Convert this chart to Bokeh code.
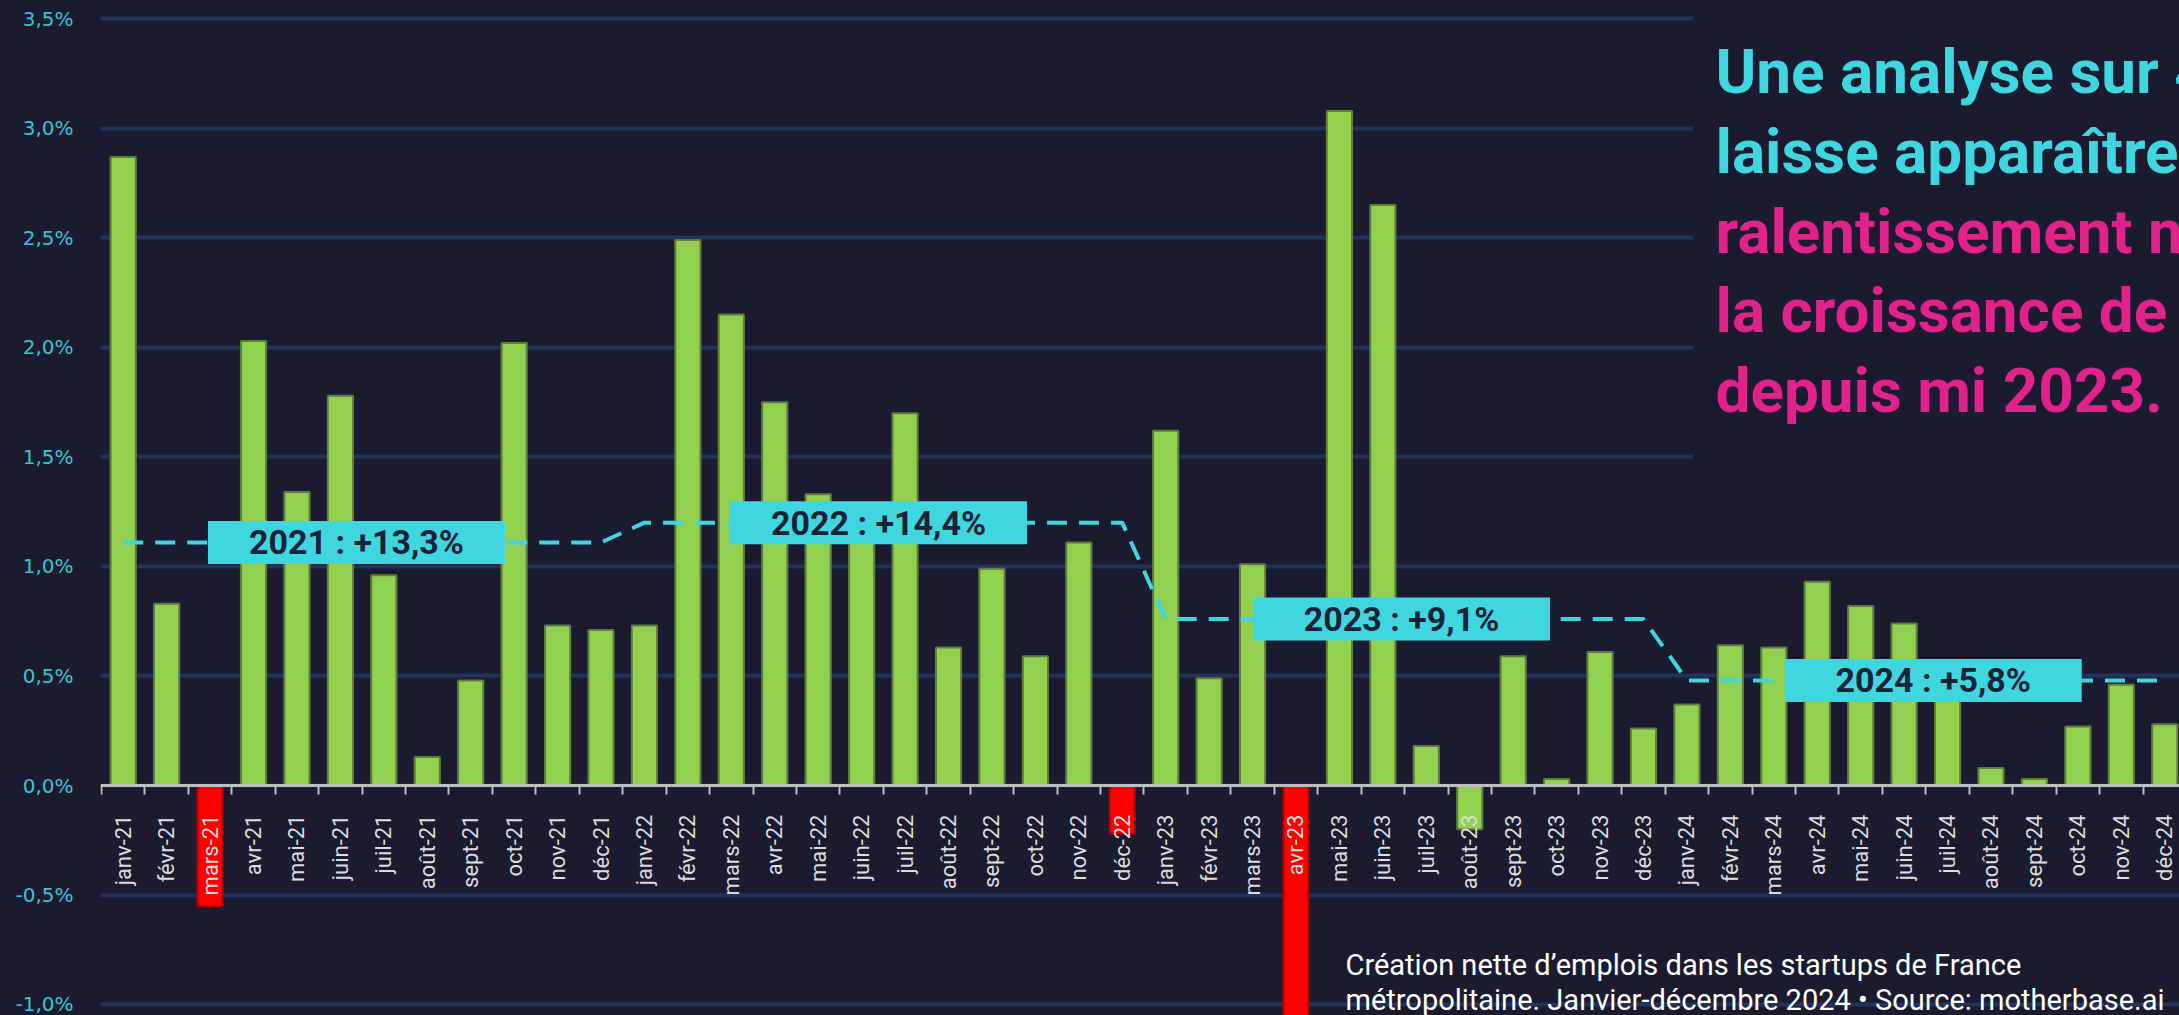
import math
from bokeh.plotting import figure
from bokeh.models import (FixedTicker, LinearAxis, Range1d, ColumnDataSource,
                          Label, BoxAnnotation)
from bokeh.embed import file_html
from bokeh.resources import INLINE
from bokeh.core.properties import value

# ---------------- data ----------------
month_names = ["janv", "févr", "mars", "avr", "mai", "juin",
               "juil", "août", "sept", "oct", "nov", "déc"]
years = ["21", "22", "23", "24"]
categories = [f"{m}-{y}" for y in years for m in month_names]

values_2021 = [2.87, 0.83, -0.55, 2.03, 1.34, 1.78, 0.96, 0.13, 0.48, 2.02, 0.73, 0.71]
values_2022 = [0.73, 2.49, 2.15, 1.75, 1.33, 1.17, 1.70, 0.63, 0.99, 0.59, 1.11, -0.22]
values_2023 = [1.62, 0.49, 1.01, -1.25, 3.08, 2.65, 0.18, -0.20, 0.59, 0.03, 0.61, 0.26]
values_2024 = [0.37, 0.64, 0.63, 0.93, 0.82, 0.74, 0.50, 0.08, 0.03, 0.27, 0.46, 0.28]
values = values_2021 + values_2022 + values_2023 + values_2024

highlight = ["mars-21", "déc-22", "avr-23"]   # bars shown in red

yearly_avg = [1.11, 1.20, 0.76, 0.48]          # monthly average per year
avg_line = [a for a in yearly_avg for _ in range(12)]

label_texts = ["2021 : +13,3%", "2022 : +14,4%", "2023 : +9,1%", "2024 : +5,8%"]
label_x = [5.37, 17.39, 29.43, 41.67]
label_y = yearly_avg

ytick_vals = [-1.0, -0.5, 0.0, 0.5, 1.0, 1.5, 2.0, 2.5, 3.0, 3.5]
ytick_labels = ["-1,0%", "-0,5%", "0,0%", "0,5%", "1,0%", "1,5%",
                "2,0%", "2,5%", "3,0%", "3,5%"]

title_lines = ["Une analyse sur 4", "laisse apparaître", "ralentissement n",
               "la croissance de", "depuis mi 2023."]
caption_lines = ["Création nette d’emplois dans les startups de France",
                 "métropolitaine. Janvier-décembre 2024 • Source: motherbase.ai"]

# ---------------- style ----------------
BG = "#1b1b2f"
GRID = "#22335a"
GREEN = "#92d050"
GREEN_EDGE = "#5f7d3c"
RED = "#ff0000"
RED_EDGE = "#b00000"
CYAN = "#40d6df"
MAGENTA = "#e0228a"
W, H = 2179, 1015

idx = list(range(len(categories)))
colors = [RED if c in highlight else GREEN for c in categories]
edges = [RED_EDGE if c in highlight else GREEN_EDGE for c in categories]

p = figure(width=W, height=H, output_backend="svg", toolbar_location=None,
           x_range=Range1d(-0.523, 47.34), y_range=Range1d(-1.050, 3.584),
           min_border_left=100, min_border_right=0, min_border_top=0,
           min_border_bottom=0, background_fill_color=BG, border_fill_color=BG,
           outline_line_color=None, x_axis_location=None)

# y axis
p.yaxis.ticker = FixedTicker(ticks=ytick_vals)
p.yaxis.major_label_overrides = dict(zip(ytick_vals, ytick_labels))
p.yaxis.axis_line_color = None
p.yaxis.major_tick_line_color = None
p.yaxis.minor_tick_line_color = None
p.yaxis.major_tick_out = 0
p.yaxis.major_label_standoff = 27
p.yaxis.major_label_text_color = "#3cc3cf"
p.yaxis.major_label_text_font = "DejaVu Sans"
p.yaxis.major_label_text_font_size = "20px"

p.ygrid.ticker = FixedTicker(ticks=ytick_vals)
p.ygrid.grid_line_color = GRID
p.ygrid.grid_line_width = 4
p.xgrid.visible = False

# title block background (covers grid at top right)
p.add_layout(BoxAnnotation(left=1593, left_units="screen", bottom=545,
                           bottom_units="screen", fill_color=BG, fill_alpha=1,
                           line_color=None, level="underlay"))

# bars
src = ColumnDataSource(dict(x=idx, top=values, color=colors, edge=edges))
p.vbar(x="x", top="top", bottom=0, width=0.58, fill_color="color",
       line_color="edge", line_width=2, source=src)

# yearly average dashed line
p.line(idx, avg_line, line_color=CYAN, line_width=4, line_dash="20 12")

# labels on the line
p.rect(x=label_x, y=label_y, width=297, height=43, width_units="screen",
       height_units="screen", fill_color=CYAN, line_color=None)
p.text(x=label_x, y=label_y, text=label_texts, text_align="center",
       text_baseline="middle", text_font=value("Roboto"),
       text_font_style="bold", text_font_size="34px", text_color="#1a2238")

# x axis at zero: labels at month centres, small ticks between months
xaxis = LinearAxis(fixed_location=0,
                   ticker=FixedTicker(ticks=idx,
                                      minor_ticks=[i - 0.5 for i in idx]),
                   major_label_overrides={i: c for i, c in zip(idx, categories)},
                   major_label_orientation=math.pi / 2,
                   axis_line_color="#bfbfbf", axis_line_width=3,
                   major_tick_line_color=None,
                   minor_tick_line_color="#bfbfbf", minor_tick_line_width=2,
                   minor_tick_out=9, minor_tick_in=0,
                   major_tick_out=0, major_tick_in=0, major_label_standoff=20,
                   major_label_text_color="#dcdcdc",
                   major_label_text_font="Roboto",
                   major_label_text_font_size="22px")
p.add_layout(xaxis, "below")

title_y = [944, 864, 784, 705, 625]
for i, (t, yy) in enumerate(zip(title_lines, title_y)):
    p.add_layout(Label(x=1615, y=yy, x_units="screen", y_units="screen",
                       text=t, text_font="Roboto", text_font_style="bold",
                       text_font_size="62px",
                       text_color=CYAN if i < 2 else MAGENTA,
                       text_baseline="alphabetic"))

for t, yy in zip(caption_lines, [51, 16]):
    p.add_layout(Label(x=1245, y=yy, x_units="screen", y_units="screen",
                       text=t, text_font="Roboto", text_font_size="29px",
                       text_color="#ffffff", text_baseline="alphabetic"))

open("out.html", "w").write(file_html(p, INLINE).replace(
    "<body>", '<body style="background-color:#1b1b2f;">'))
